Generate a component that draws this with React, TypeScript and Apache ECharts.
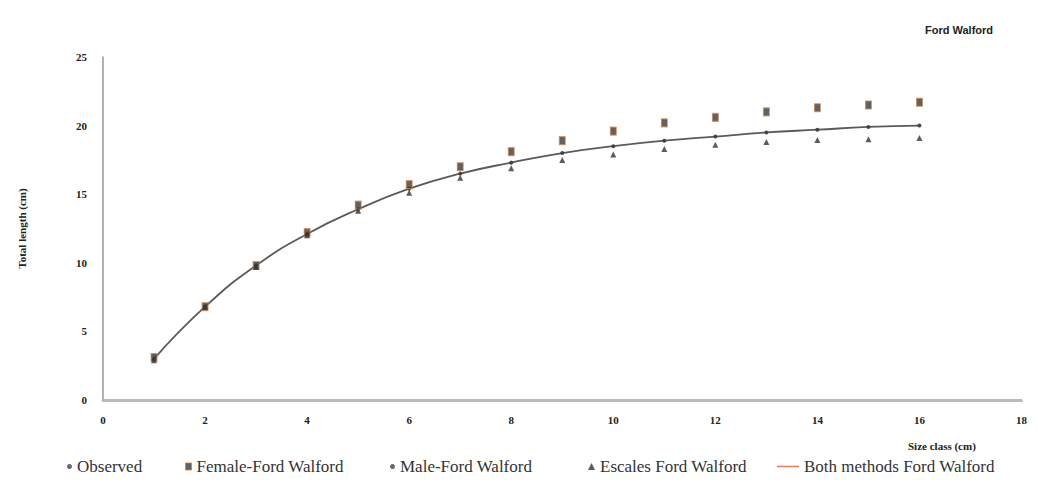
import React, { useEffect, useRef } from "react";
import * as echarts from "echarts";

const sizeClass = [1, 2, 3, 4, 5, 6, 7, 8, 9, 10, 11, 12, 13, 14, 15, 16];
const observed = [3.0, 6.8, 9.8, 12.1, 13.9, 15.4, 16.5, 17.3, 18.0, 18.5, 18.9, 19.2, 19.5, 19.7, 19.9, 20.0];
const female = [3.1, 6.8, 9.8, 12.2, 14.2, 15.7, 17.0, 18.1, 18.9, 19.6, 20.2, 20.6, 21.0, 21.3, 21.5, 21.7];
const male = [3.0, 6.8, 9.8, 12.1, 13.9, 15.4, 16.5, 17.3, 18.0, 18.5, 18.9, 19.2, 19.5, 19.7, 19.9, 20.0];
const escales = [2.9, 6.8, 9.7, 12.0, 13.8, 15.1, 16.2, 16.9, 17.5, 17.9, 18.3, 18.6, 18.8, 18.95, 19.0, 19.1];
const bothMethods = [3.0, 6.8, 9.8, 12.1, 13.9, 15.4, 16.5, 17.3, 18.0, 18.5, 18.9, 19.2, 19.5, 19.7, 19.9, 20.0];

const pairs = (ys: number[]) => sizeClass.map((x, i) => [x, ys[i]]);

export default function App() {
  const ref = useRef<HTMLDivElement>(null);
  useEffect(() => {
    if (!ref.current) return;
    const chart = echarts.init(ref.current, undefined, { renderer: "svg" });
    const serif = "Liberation Serif";
    const axisLabel = { fontFamily: serif, fontWeight: "bold" as const, fontSize: 11, color: "#222" };
    const legendText = { fontFamily: serif, fontSize: 17, color: "#333" };
    const mkLegend = (name: string, left: number, icon: string, w: number, h: number, extra: any) => ({
      data: [{ name, icon, ...extra }],
      left,
      top: 445,
      itemWidth: w,
      itemHeight: h,
      itemGap: 0,
      textStyle: legendText,
    });
    chart.setOption({
      animation: false,
      backgroundColor: "#fff",
      title: {
        text: "Ford Walford",
        left: 912,
        top: 11,
        textStyle: { fontFamily: "Liberation Sans", fontWeight: "bold", fontSize: 11, color: "#222" },
      },
      grid: { left: 88, right: 0, top: 49, bottom: 88, containLabel: false },
      xAxis: {
        type: "value",
        min: 0,
        max: 18,
        interval: 2,
        axisLine: { show: true, lineStyle: { color: "#bbb", width: 3 } },
        axisTick: { show: false },
        splitLine: { show: false },
        axisLabel: { ...axisLabel, margin: 14 },
      },
      yAxis: {
        type: "value",
        min: 0,
        max: 25,
        interval: 5,
        name: "Total length (cm)",
        nameLocation: "middle",
        nameGap: 76,
        nameRotate: 90,
        nameTextStyle: { fontFamily: serif, fontWeight: "bold", fontSize: 11, color: "#222" },
        axisLine: { show: true, lineStyle: { color: "#999", width: 1.5 } },
        axisTick: { show: false },
        splitLine: { show: false },
        axisLabel: { ...axisLabel, margin: 16 },
      },
      graphic: [
        {
          type: "text",
          left: 900,
          top: 432,
          style: { text: "Size class (cm)", fontFamily: serif, fontWeight: "bold", fontSize: 11, fill: "#222" },
        },
      ],
      legend: [
        mkLegend("Observed", 54, "circle", 5, 5, { itemStyle: { color: "#444" } }),
        mkLegend("Female-Ford Walford", 172, "rect", 6, 7, { itemStyle: { color: "#3a3a3a", borderColor: "#e07a3a", borderWidth: 1 } }),
        mkLegend("Male-Ford Walford", 377, "circle", 5, 5, { itemStyle: { color: "#444" } }),
        mkLegend("Escales Ford Walford", 575, "triangle", 7, 7, { itemStyle: { color: "#333" } }),
        mkLegend("Both methods Ford Walford", 764, "rect", 22, 1.5, { itemStyle: { color: "#e0805a", borderWidth: 0 } }),
      ],
      series: [
        {
          name: "Both methods Ford Walford",
          type: "line",
          smooth: true,
          symbol: "none",
          data: pairs(bothMethods),
          lineStyle: { color: "#5a5a5a", width: 1.8 },
          itemStyle: { color: "#5a5a5a" },
          z: 2,
        },
        {
          name: "Observed",
          type: "scatter",
          symbol: "circle",
          symbolSize: 4,
          data: pairs(observed),
          itemStyle: { color: "#333" },
          z: 3,
        },
        {
          name: "Male-Ford Walford",
          type: "scatter",
          symbol: "circle",
          symbolSize: 3,
          data: pairs(male),
          itemStyle: { color: "#444" },
          z: 3,
        },
        {
          name: "Female-Ford Walford",
          type: "scatter",
          symbol: "rect",
          symbolSize: [6, 8],
          data: pairs(female),
          itemStyle: { color: "#3a3a3a", borderColor: "#d9894a", borderWidth: 1 },
          z: 4,
        },
        {
          name: "Escales Ford Walford",
          type: "scatter",
          symbol: "triangle",
          symbolSize: 6,
          data: pairs(escales),
          itemStyle: { color: "#333" },
          z: 4,
        },
      ],
    });
    return () => chart.dispose();
  }, []);
  return <div ref={ref} style={{ width: 1022, height: 480 }} />;
}
